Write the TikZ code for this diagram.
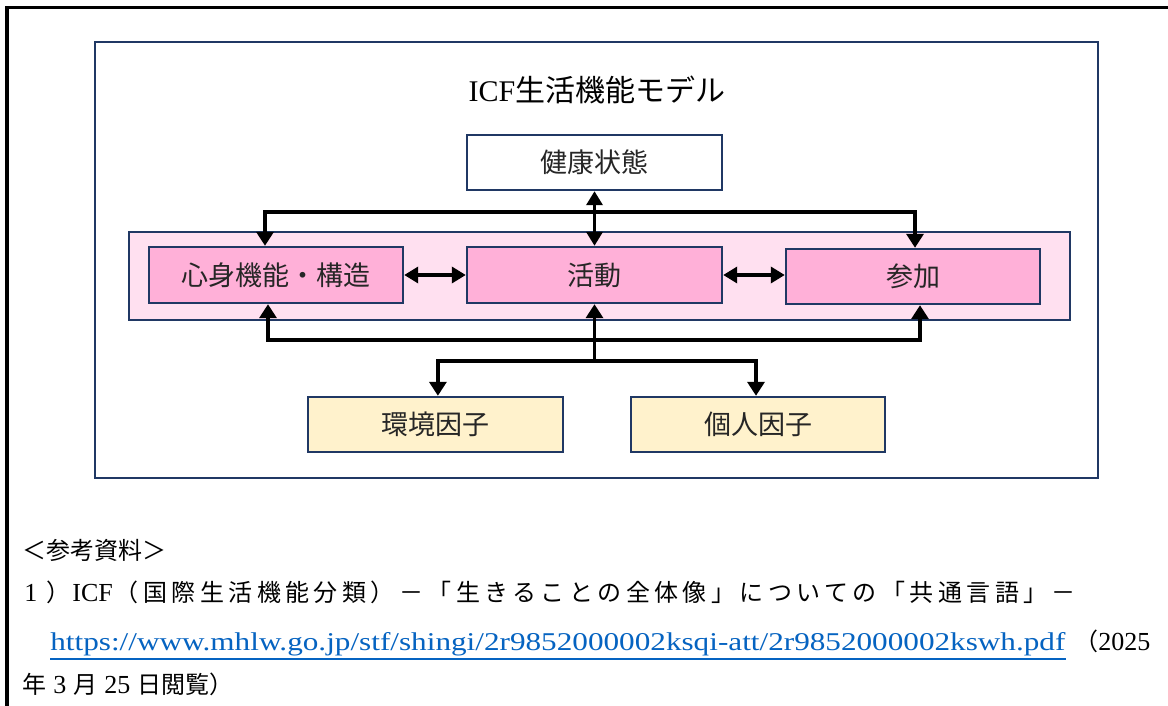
\documentclass[tikz,border=0pt]{standalone}
\usepackage{fontspec}
\usepackage{graphicx}
\setmainfont{Liberation Serif}
\newfontfamily\jpf{Noto Sans CJK JP}
\newfontfamily\jpsp[LetterSpace=18.5]{Noto Sans CJK JP}
\usetikzlibrary{arrows.meta,calc}
\definecolor{navy}{RGB}{32,56,100}
\definecolor{pinkbg}{RGB}{255,224,240}
\definecolor{pinkbox}{RGB}{255,176,216}
\definecolor{yelbox}{RGB}{255,242,204}
\definecolor{urlblue}{RGB}{5,99,193}
\tikzset{
  frameline/.style={draw=navy, line width=1.3pt},
  labelbox/.style={draw=navy, line width=1.2pt, inner sep=0pt, minimum height=27.5pt,
    font=\jpf\fontsize{13.5}{16}\selectfont, text=black!85},
  whitebox/.style={labelbox, fill=white},
  pbox/.style={labelbox, fill=pinkbox},
  ybox/.style={labelbox, fill=yelbox},
  arr/.style={line width=1.7pt, -{Triangle[width=8.5pt,length=7pt]}},
  darr/.style={line width=1.7pt, {Triangle[width=8pt,length=7pt]}-{Triangle[width=8pt,length=7pt]}},
  foot/.style={inner sep=0pt, anchor=base west, font=\fontsize{12}{14}\selectfont},
}
\begin{document}
\begin{tikzpicture}[x=0.5pt,y=-0.5pt]
\useasboundingbox (0,0) rectangle (1168,706);
\fill[white] (0,0) rectangle (1168,706);
% outer black border
\draw[line width=1.8pt] (7,706) -- (7,7.5) -- (1168,7.5);
% inner frame
\draw[frameline] (95,42) rectangle (1098,478);
% title
\node[inner sep=0pt, font=\fontsize{15}{18}\selectfont] (title) at (597,90) {ICF{\jpf 生活機能モデル}};
% boxes
\node[whitebox, minimum width=127.5pt] (kenko) at (594.5,162.5) {健康状態};
\node[frameline, fill=pinkbg, inner sep=0pt, minimum width=470.5pt, minimum height=44pt] (band) at (599.5,276) {};
\node[pbox, minimum width=127pt, minimum height=28pt] (shin) at (276,275) {心身機能・構造};
\node[pbox, minimum width=127.5pt, minimum height=28pt] (katsu) at (594.5,275) {活動};
\node[pbox, minimum width=127pt] (sanka) at (913,276.5) {参加};
\node[ybox, minimum width=127.5pt] (kankyo) at (435.5,424.5) {環境因子};
\node[ybox, minimum width=127pt] (kojin) at (758,424.5) {個人因子};
% junction coordinates
\coordinate (tj) at (594.5,212);
\coordinate (bj) at (594.5,340);
\coordinate (fj) at (594.5,361);
% connectors
\draw[darr] (kenko.south) -- (katsu.north);
\draw[arr] (tj) -| ([xshift=-5.5pt]shin.north);
\draw[arr] (tj) -| ([xshift=1pt]sanka.north);
\draw[arr] (fj) -- (katsu.south);
\draw[arr] (bj) -| ([xshift=-4pt]shin.south);
\draw[arr] (bj) -| ([xshift=3.5pt]sanka.south);
\draw[arr] (fj) -| ([xshift=1.2pt]kankyo.north);
\draw[arr] (fj) -| ([xshift=-1pt]kojin.north);
\draw[darr] (shin.east) -- (katsu.west);
\draw[darr] (katsu.east) -- (sanka.west |- katsu.east);
% footer
\node[foot] (ref) at (22,559) {\jpf ＜参考資料＞};
\node[foot] (src) at (24,601) {{\fontsize{13}{14}\selectfont 1}\hspace{4.5pt}{\jpsp ）}\hspace{1pt}{\fontsize{13}{14}\selectfont ICF}\hspace{1pt}{\jpsp （国際生活機能分類）－「生きることの全体像」についての「共通言語」－}};
\node[foot, text=urlblue] (url) at (50,650) {\resizebox{507.5pt}{\height}{\fontsize{12.8}{14}\selectfont https://www.mhlw.go.jp/stf/shingi/2r9852000002ksqi-att/2r9852000002kswh.pdf}};
\draw[urlblue, line width=1pt] ([yshift=-4.5pt]url.base west) -- ([yshift=-4.5pt]url.base east);
\node[foot] (date) at (1074,650) {{\jpf （}{\fontsize{13}{14}\selectfont 2025}};
\node[foot] (date2) at (22,693) {{\jpf 年}\hspace{3.5pt}{\fontsize{13}{14}\selectfont 3}\hspace{3.5pt}{\jpf 月}\hspace{3.5pt}{\fontsize{13}{14}\selectfont 25}\hspace{3.5pt}{\jpf 日閲覧）}};
\end{tikzpicture}
\end{document}
